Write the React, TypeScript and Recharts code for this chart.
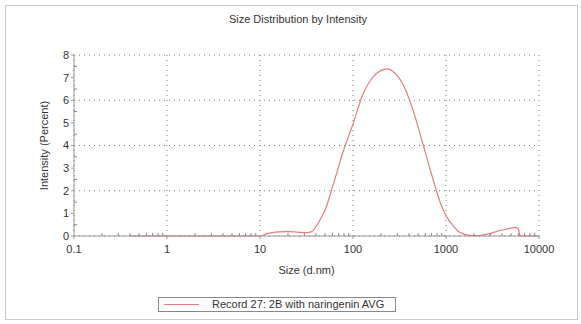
import { LineChart, Line, XAxis, YAxis, CartesianGrid } from 'recharts';

// size (d.nm) vs intensity (%)
const sizes = [
  0.4, 1, 5, 10, 11.5, 13.5, 16, 20, 25, 31.6, 35.5, 39.8, 44.7, 50.1, 63.1, 79.4, 100,
  126, 158, 200, 229, 282, 355, 447, 562, 708, 891, 1000, 1202, 1413, 1778, 2239,
  2800, 3500, 4300, 5000, 5600, 6000, 6300, 7000, 10000,
];
const intensity = [
  0, 0, 0, 0, 0.08, 0.15, 0.18, 0.19, 0.17, 0.15, 0.18, 0.4, 0.75, 1.15, 2.45, 3.8, 4.95,
  6.2, 6.95, 7.32, 7.39, 7.2, 6.6, 5.5, 4.1, 2.65, 1.35, 0.9, 0.44, 0.15, 0.03, 0.02,
  0.08, 0.2, 0.29, 0.35, 0.38, 0.3, 0, 0, 0,
];

const xTicks = [0.1, 1, 10, 100, 1000, 10000];
const xMinorTicks = [
  0.2, 0.3, 0.4, 0.5, 0.6, 0.7, 0.8, 0.9,
  2, 3, 4, 5, 6, 7, 8, 9,
  20, 30, 40, 50, 60, 70, 80, 90,
  200, 300, 400, 500, 600, 700, 800, 900,
  2000, 3000, 4000, 5000, 6000, 7000, 8000, 9000,
];
const yTicks = [0, 1, 2, 3, 4, 5, 6, 7, 8];
const yMinorTicks = [0.5, 1.5, 2.5, 3.5, 4.5, 5.5, 6.5, 7.5];

const data = sizes.map((s, i) => ({ size: s, value: intensity[i] }));

const font = '"Liberation Sans", Arial, sans-serif';
const tickStyle = { fill: '#333', fontSize: 11, fontFamily: font };

export default function App() {
  return (
    <div
      style={{
        position: 'absolute',
        left: 0,
        top: 0,
        width: 581,
        height: 324,
        background: '#fff',
        fontFamily: font,
      }}
    >
      <div
        style={{
          position: 'absolute',
          left: 5,
          top: 5,
          width: 571,
          height: 313,
          border: '1px solid #c8c8c8',
        }}
      />
      <div
        style={{
          position: 'absolute',
          left: 0,
          top: 13,
          width: 596,
          textAlign: 'center',
          fontSize: 11,
          color: '#333',
        }}
      >
        Size Distribution by Intensity
      </div>
      <LineChart
        width={581}
        height={324}
        data={data}
        margin={{ top: 55, right: 42, bottom: 48, left: 44 }}
        style={{ position: 'absolute', left: 0, top: 0 }}
      >
        <CartesianGrid stroke="#777" strokeDasharray="1 4" />
        <XAxis
          dataKey="size"
          type="number"
          scale="log"
          domain={[0.1, 10000]}
          ticks={xTicks}
          tickFormatter={(v: number) => String(v)}
          allowDataOverflow
          height={40}
          tickSize={3}
          tickMargin={6}
          stroke="#999"
          tick={tickStyle}
          label={{
            value: 'Size (d.nm)',
            position: 'insideBottom',
            offset: 2,
            style: { fill: '#333', fontSize: 11, fontFamily: font },
          }}
        />
        <XAxis
          xAxisId="minor"
          dataKey="size"
          type="number"
          scale="log"
          domain={[0.1, 10000]}
          ticks={xMinorTicks}
          tickFormatter={() => ''}
          interval={0}
          allowDataOverflow
          height={1}
          tickSize={3}
          axisLine={false}
          stroke="#888"
          mirror
        />
        <YAxis
          type="number"
          domain={[0, 8]}
          ticks={yTicks}
          width={30}
          tickSize={3}
          tickMargin={2}
          stroke="#999"
          tick={tickStyle}
          label={{
            value: 'Intensity (Percent)',
            angle: -90,
            position: 'insideLeft',
            offset: 0,
            style: { textAnchor: 'middle', fill: '#333', fontSize: 11, fontFamily: font },
          }}
        />
        <YAxis
          yAxisId="minor"
          type="number"
          domain={[0, 8]}
          ticks={yMinorTicks}
          tickFormatter={() => ''}
          interval={0}
          width={1}
          tickSize={3}
          axisLine={false}
          stroke="#888"
          mirror
        />
        <Line
          xAxisId="minor"
          yAxisId="minor"
          dataKey="value"
          stroke="none"
          dot={false}
          legendType="none"
          isAnimationActive={false}
        />
        <Line
          type="monotone"
          dataKey="value"
          stroke="#e77b7e"
          strokeWidth={1.2}
          dot={false}
          isAnimationActive={false}
        />
      </LineChart>
      <div
        style={{
          position: 'absolute',
          left: 158,
          top: 297,
          width: 236,
          height: 13,
          border: '1px solid #888',
          fontSize: 11,
          color: '#333',
          lineHeight: '13px',
        }}
      >
        <span
          style={{
            position: 'absolute',
            left: 5,
            top: 6,
            width: 35,
            borderTop: '1px solid #e77b7e',
          }}
        />
        <span style={{ position: 'absolute', left: 53, top: 0, whiteSpace: 'nowrap' }}>
          Record 27: 2B with naringenin AVG
        </span>
      </div>
    </div>
  );
}
